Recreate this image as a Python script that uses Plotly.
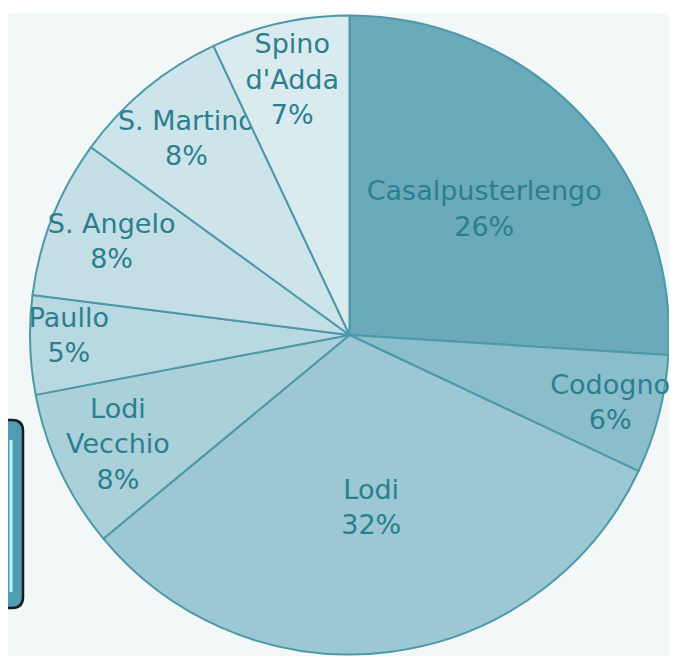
import plotly.graph_objects as go

# Data
categories = ["Casalpusterlengo", "Codogno", "Lodi", "Lodi Vecchio", "Paullo",
              "S. Angelo", "S. Martino", "Spino d'Adda"]
display_names = ["Casalpusterlengo", "Codogno", "Lodi", "Lodi<br>Vecchio", "Paullo",
                 "S. Angelo", "S. Martino", "Spino<br>d'Adda"]
values = [26, 6, 32, 8, 5, 8, 8, 7]

colors = ["#6aaabb", "#8bbecb", "#9bc8d3", "#aad0d9", "#b8d9e1",
          "#c3dee5", "#cde5ea", "#daebef"]

OFF = 8  # page body margin
W, H = 677 - 2 * OFF, 664 - 2 * OFF
L, R, T, B = 30 - OFF, 0, 14 - OFF, 0
pw, ph = W - L - R, H - T - B

def px_x(x):  # page pixel -> paper
    return (x - OFF - L) / pw

def px_y(y):
    return (H + OFF - B - y) / ph

FS = 27

fig = go.Figure(go.Pie(
    labels=categories,
    values=values,
    text=display_names,
    texttemplate="%{text}<br>%{percent:.0%}",
    textposition="inside",
    insidetextorientation="horizontal",
    textfont=dict(family="DejaVu Sans", size=FS, color="#2b7f8f"),
    marker=dict(colors=colors, line=dict(color="#4e98a9", width=2)),
    sort=False,
    direction="clockwise",
    rotation=0,
    hoverinfo="label+percent",
    showlegend=False,
))

# Rounded rectangle decoration at left
x0, x1 = px_x(-6), px_x(23)
y0, y1 = px_y(608), px_y(420)
rx = 11 / pw
ry = 11 / ph
path = (f"M {x0},{y1} L {x1-rx},{y1} Q {x1},{y1} {x1},{y1-ry} "
        f"L {x1},{y0+ry} Q {x1},{y0} {x1-rx},{y0} L {x0},{y0} Z")

shapes = [
    dict(type="rect", xref="paper", yref="paper", x0=px_x(0), x1=px_x(677), y0=px_y(13), y1=px_y(0),
         fillcolor="white", line=dict(width=0), layer="below"),
    dict(type="path", xref="paper", yref="paper", path=path,
         fillcolor="#4f9db2", line=dict(color="#1a1a1a", width=2.5), layer="above"),
    dict(type="line", xref="paper", yref="paper", x0=px_x(11), x1=px_x(11), y0=px_y(592), y1=px_y(440),
         line=dict(color="#bff3fb", width=3), layer="above"),
]

fig.update_layout(
    width=W, height=H,
    margin=dict(l=L, r=R, t=T, b=B),
    paper_bgcolor="#f2f7f8",
    plot_bgcolor="#f2f7f8",
    shapes=shapes,
    uniformtext=dict(minsize=FS, mode="show"),
)

fig.write_html("out.html")
